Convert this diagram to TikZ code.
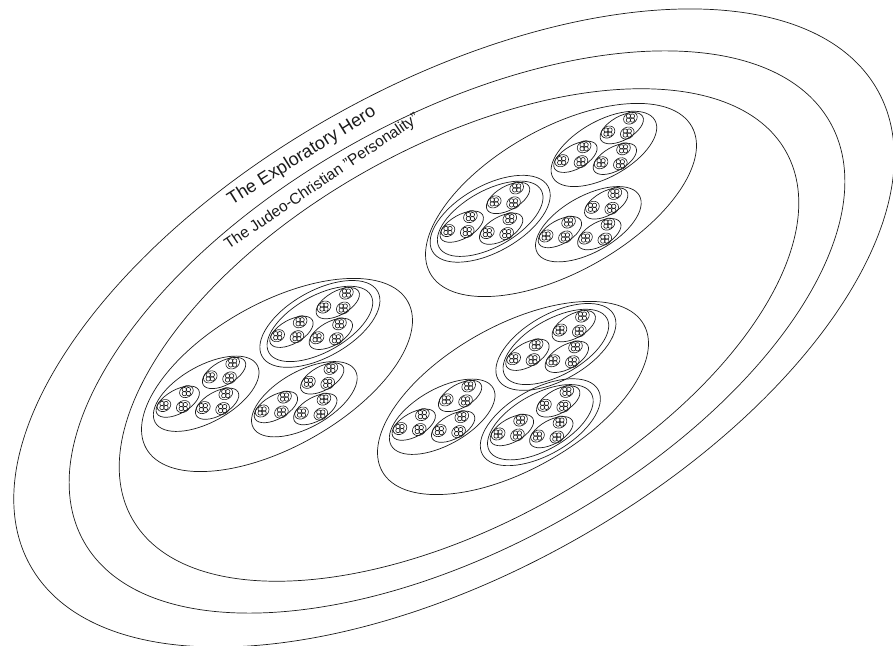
\documentclass[tikz,border=0pt]{standalone}
\usepackage{fontspec}
\setmainfont{Liberation Sans}
\usepackage{tikz}
\definecolor{mmInk}{HTML}{1A1A1A}

\begin{document}
\begin{tikzpicture}[x=1pt,y=1pt,color=mmInk,line width=0.7pt]
    \useasboundingbox (0,0) rectangle (893,645);

    \foreach \cx/\cy/\s in {454/317/1.135, 457/313/1, 459/310/0.876}
      \draw[rotate around={29.3:(\cx,\cy)}] (\cx,\cy) ellipse [x radius={428*\s}, y radius={215*\s}];

    \foreach \gx/\gy/\dblA/\dblB/\dblC in {561/445/0/1/0, 277/270/1/0/0, 513/247/1/0/1} {
      \begin{scope}[shift={(\gx,\gy)}, rotate=29.3]
        \draw (0,0) ellipse [x radius=150, y radius=72];
        \foreach \cx/\cy/\dbl in {0.416/0.157/\dblA, -0.473/0.122/\dblB, 0.08/-0.23/\dblC} {
          \begin{scope}[shift={({150*\cx},{150*\cy})}, scale=0.39]
            \draw (0,0) ellipse [x radius=150, y radius=72];
            \ifnum\dbl=1 \draw (0,0) ellipse [x radius=170, y radius=85]; \fi
            \foreach \ex/\ey in {0.44/0.16, -0.49/0.12, 0.08/-0.24} {
              \begin{scope}[shift={({150*\ex},{150*\ey})}, scale=0.41]
                \draw (0,0) ellipse [x radius=150, y radius=74];
                \foreach \fx/\fy in {0.52/0.19, -0.58/0.14, 0.10/-0.29} {
                  \begin{scope}[shift={({150*\fx},{150*\fy})}, scale=0.30, line width=0.6pt]
                    \draw (0,0) ellipse [x radius=150, y radius=118];
                    \begin{scope}[rotate=-29.3]
                      \foreach \qx/\qy in {1/1, -1/1, -1/-1, 1/-1}
                        \draw (42*\qx,42*\qy) circle [radius=46];
                    \end{scope}
                  \end{scope}
                }
              \end{scope}
            }
          \end{scope}
        }
      \end{scope}
    }

    \node[rotate=32, font=\fontsize{18}{20}\selectfont] (hero) at (302,489) {The Exploratory Hero};
    \node[rotate=34, font=\fontsize{15.5}{18}\selectfont] (personality) at (322,463) {The Judeo-Christian "Personality"};
\end{tikzpicture}
\end{document}
